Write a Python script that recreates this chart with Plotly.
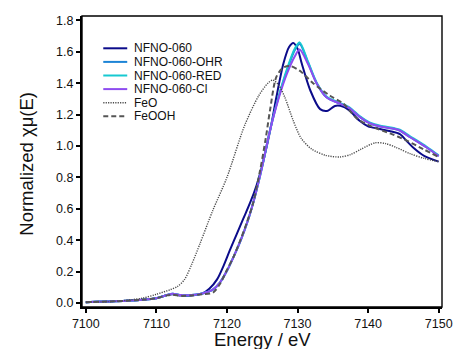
import plotly.graph_objects as go

# ---------------- data ----------------
names = ["NFNO-060", "NFNO-060-OHR", "NFNO-060-RED", "NFNO-060-Cl", "FeO", "FeOOH"]

x_nfno = [7100, 7104, 7108, 7110, 7111.5, 7112.3, 7113.5, 7115, 7116.5, 7117.5, 7118.6, 7119.5,
          7120.4, 7121.4, 7122.3, 7123.3, 7124.2, 7124.9, 7125.6, 7126.3, 7127, 7128, 7128.8,
          7129.4, 7130, 7130.6, 7131.8, 7133.2, 7134.3, 7135.3, 7136.5, 7137.5, 7138.8, 7140,
          7141.5, 7143, 7144.5, 7145.5, 7146.5, 7148, 7150]
y_nfno = [0.005, 0.01, 0.02, 0.03, 0.05, 0.055, 0.047, 0.048, 0.06, 0.09, 0.15, 0.235,
          0.335, 0.44, 0.535, 0.64, 0.75, 0.86, 0.99, 1.14, 1.31, 1.525, 1.63,
          1.656, 1.62, 1.525, 1.355, 1.235, 1.225, 1.255, 1.25, 1.22, 1.16, 1.125,
          1.11, 1.095, 1.075, 1.03, 0.985, 0.935, 0.90]

x_mod = [7100, 7104, 7108, 7110, 7111.5, 7112.3, 7113.5, 7115, 7116.5, 7118, 7119, 7120,
         7121, 7122, 7123, 7124, 7125, 7126, 7127.3, 7128.5, 7129.6, 7130.3, 7131.5,
         7132.7, 7134.1, 7136, 7137.4, 7138.8, 7140.2, 7141.6, 7143, 7144.4, 7145.9, 7148.3, 7150]
y_ohr = [0.005, 0.01, 0.02, 0.03, 0.05, 0.058, 0.05, 0.05, 0.06, 0.085, 0.13, 0.205,
         0.30, 0.405, 0.53, 0.685, 0.87, 1.08, 1.31, 1.48, 1.61, 1.65, 1.53,
         1.40, 1.31, 1.27, 1.24, 1.185, 1.145, 1.125, 1.115, 1.10, 1.057, 0.99, 0.935]
y_red = [0.005, 0.01, 0.02, 0.03, 0.05, 0.058, 0.05, 0.05, 0.06, 0.085, 0.13, 0.205,
         0.30, 0.405, 0.53, 0.685, 0.87, 1.08, 1.31, 1.49, 1.62, 1.66, 1.535,
         1.405, 1.315, 1.275, 1.245, 1.19, 1.15, 1.13, 1.12, 1.105, 1.063, 0.995, 0.94]
y_cl = [0.005, 0.01, 0.02, 0.03, 0.05, 0.058, 0.05, 0.05, 0.06, 0.085, 0.13, 0.205,
        0.30, 0.405, 0.53, 0.685, 0.87, 1.08, 1.30, 1.46, 1.57, 1.614, 1.52,
        1.40, 1.31, 1.27, 1.24, 1.185, 1.145, 1.125, 1.115, 1.10, 1.057, 0.99, 0.935]

x_feo = [7100, 7104, 7108, 7110, 7112, 7113, 7114, 7115, 7116.2, 7118, 7120, 7122.5, 7124.5,
         7125.8, 7126.5, 7127.3, 7128.2, 7129.4, 7130.5, 7132, 7134, 7136, 7137.5, 7139,
         7141, 7142.5, 7144, 7146, 7148, 7150]
y_feo = [0.005, 0.01, 0.03, 0.055, 0.085, 0.105, 0.15, 0.245, 0.38, 0.59, 0.80, 1.13, 1.32,
         1.40, 1.42, 1.39, 1.31, 1.16, 1.05, 0.98, 0.94, 0.93, 0.945, 0.98,
         1.02, 1.015, 0.99, 0.95, 0.92, 0.90]

x_feooh = [7100, 7104, 7108, 7110, 7111.5, 7112.3, 7113.5, 7115, 7116.5, 7118, 7119, 7120,
           7121, 7121.9, 7122.8, 7123.7, 7124.7, 7125.5, 7126.1, 7127, 7128, 7128.9, 7130.3,
           7132.2, 7134.6, 7136.5, 7138.4, 7140.7, 7143.1, 7145.4, 7147.8, 7150]
y_feooh = [0.005, 0.01, 0.02, 0.03, 0.048, 0.052, 0.045, 0.048, 0.055, 0.065, 0.12, 0.21,
           0.30, 0.40, 0.51, 0.635, 0.845, 1.05, 1.227, 1.44, 1.50, 1.51, 1.48,
           1.40, 1.32, 1.27, 1.175, 1.12, 1.08, 1.036, 0.98, 0.93]

x_ticks = [7100, 7110, 7120, 7130, 7140, 7150]
y_ticks = [0.0, 0.2, 0.4, 0.6, 0.8, 1.0, 1.2, 1.4, 1.6, 1.8]
x_title = "Energy / eV"
y_title = "Normalized χμ(E)"

# ---------------- styles ----------------
series = [
    (x_nfno, y_nfno, "#0b0b8a", "solid", 2),
    (x_mod, y_ohr, "#1c84d6", "solid", 2),
    (x_mod, y_red, "#17c9d1", "solid", 2),
    (x_mod, y_cl, "#8e4cf0", "solid", 2),
    (x_feo, y_feo, "#4a4a4a", "1.2px,1.2px", 1.4),
    (x_feooh, y_feooh, "#555555", "5px,3px", 2),
]

fig = go.Figure()
for name, (xs, ys, col, dash, w) in zip(names, series):
    fig.add_trace(go.Scatter(x=xs, y=ys, mode="lines", name=name, showlegend=False,
                             line=dict(color=col, dash=dash, width=w,
                                       shape="spline", smoothing=0.8)))

# pixel -> paper helper for the plot box (page pixels)
L, R, T, B = 81.7, 442.3, 15.7, 306.7
def px2paper(px, py):
    return (px - L) / (R - L), (B - py) / (B - T)

shapes = []
annotations = []
# manual compact legend
for i, (name, (xs, ys, col, dash, w)) in enumerate(zip(names, series)):
    py = 48 + i * 13.6
    x0, y0 = px2paper(103, py)
    x1, _ = px2paper(127, py)
    shapes.append(dict(type="line", xref="paper", yref="paper", x0=x0, x1=x1, y0=y0, y1=y0,
                       line=dict(color=col, dash=dash, width=w)))
    tx, _ = px2paper(132, py)
    annotations.append(dict(xref="paper", yref="paper", x=tx, y=y0, text=name, showarrow=False,
                            xanchor="left", yanchor="middle",
                            font=dict(family="Liberation Sans, Arial", size=12, color="#111")))

# axis titles
xt, yt = px2paper(262, 339)
annotations.append(dict(xref="paper", yref="paper", x=xt, y=yt, text=x_title, showarrow=False,
                        xanchor="center", yanchor="middle",
                        font=dict(family="Liberation Sans, Arial", size=18.5, color="#111")))
xt, yt = px2paper(26, 163)
annotations.append(dict(xref="paper", yref="paper", x=xt, y=yt, text=y_title, showarrow=False,
                        xanchor="center", yanchor="middle", textangle=-90,
                        font=dict(family="Liberation Sans, Arial", size=18.5, color="#111")))

shapes.append(dict(type="rect", xref="paper", yref="paper", x0=0, x1=1, y0=0, y1=1,
                   line=dict(color="black", width=1.4), layer="above"))

# the page body has an 8px default margin: size the figure to fit the 461x349 window
fig.update_layout(
    width=453, height=341,
    margin=dict(l=74, r=19, t=8, b=42),
    paper_bgcolor="white", plot_bgcolor="white",
    font=dict(family="Liberation Sans, Arial", color="#111"),
    shapes=shapes, annotations=annotations,
)
fig.update_xaxes(range=[7099.46, 7150.47], tickvals=x_ticks, ticktext=[str(v) for v in x_ticks],
                 automargin=False,
                 showgrid=False, zeroline=False, showline=True, linecolor="black", linewidth=2,
                 ticks="outside", ticklen=4, tickwidth=1.5, tickcolor="black",
                 tickfont=dict(size=12.5, color="#111"))
fig.update_yaxes(range=[-0.026, 1.828], tickvals=y_ticks, ticktext=[f"{v:.1f}" for v in y_ticks],
                 automargin=False,
                 showgrid=False, zeroline=False, showline=True, linecolor="black", linewidth=2,
                 ticks="outside", ticklen=4, tickwidth=1.5, tickcolor="black",
                 tickfont=dict(size=12.5, color="#111"))

fig.write_html("out.html")
